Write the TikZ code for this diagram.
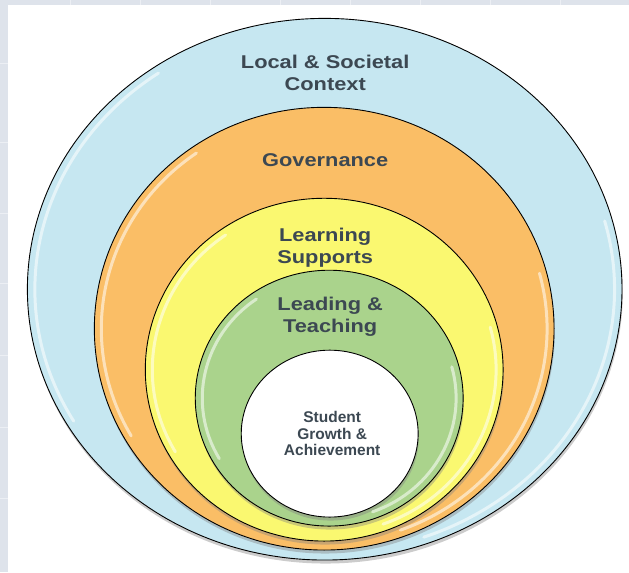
\documentclass[tikz,border=0pt]{standalone}
\usepackage{fontspec}
\setmainfont{Liberation Sans}
\newfontfamily\ringfont{Liberation Sans}[FakeStretch=1.18]
\usetikzlibrary{shapes.geometric,shadows}

\definecolor{stripbg}{RGB}{222,227,235}
\definecolor{stripline}{RGB}{236,239,244}
\definecolor{ctxblue}{RGB}{198,231,241}
\definecolor{govorange}{RGB}{250,190,102}
\definecolor{supyellow}{RGB}{250,248,112}
\definecolor{leadgreen}{RGB}{170,211,140}
\definecolor{labelgray}{RGB}{60,72,82}

\tikzset{
  ring/.style={ellipse, draw=black, line width=0.9pt, inner sep=0pt, outer sep=0pt,
    drop shadow={shadow xshift=0.8pt, shadow yshift=-3.5pt, opacity=0.4}},
  shine/.style={draw=white, line width=3pt, opacity=0.55, line cap=round},
  ringlabel/.style={text=labelgray, align=center, inner sep=0pt,
    font=\ringfont\bfseries\fontsize{18.5}{22}\selectfont},
  corelabel/.style={text=labelgray, align=center, inner sep=0pt,
    font=\bfseries\fontsize{15.5}{16.5}\selectfont},
}

\begin{document}
\begin{tikzpicture}[x=1pt, y=-1pt]
  % page backdrop with its faint grid strip and the white panel
  \fill[stripbg] (0,0) rectangle (629,572);
  \foreach \yy in {63,142,213,283,355,427,498}
    \draw[stripline, line width=0.8pt] (0,\yy) -- (8,\yy);
  \foreach \xx in {70,140,210,280,350,420,490,560}
    \draw[stripline, line width=0.8pt] (\xx,0) -- (\xx,5);
  \fill[white] (8,5) rectangle (629,572);
  \useasboundingbox (0,0) rectangle (629,572);

  % nested rings, outermost first
  \node[ring, fill=ctxblue,   minimum width=595pt, minimum height=542pt] (context)    at (324.5,289)   {};
  \node[ring, fill=govorange, minimum width=460pt, minimum height=443pt] (governance) at (324,328.5)   {};
  \node[ring, fill=supyellow, minimum width=358pt, minimum height=343pt] (supports)   at (324,369.5)   {};
  \node[ring, fill=leadgreen, minimum width=268pt, minimum height=256pt] (teaching)   at (329,398)     {};
  \node[ring, fill=white,     minimum width=177pt, minimum height=167pt] (student)    at (329.5,433.5) {};

  % glossy highlights along the inner rims
  \foreach \cx/\cy/\rx/\ry in {324.5/289/290/264, 324/328.5/223/214.5, 324/369.5/172/164.5, 329/398/127/121}{
    \draw[shine] ({\cx+\rx*cos(150)},{\cy+\ry*sin(150)})
      arc[start angle=150, end angle=235, x radius=\rx, y radius=\ry];
    \draw[shine] ({\cx+\rx*cos(-15)},{\cy+\ry*sin(-15)})
      arc[start angle=-15, end angle=70, x radius=\rx, y radius=\ry];
  }

  % ring labels
  \node[ringlabel] (contextlabel)    at (325,73)    {Local \& Societal\\Context};
  \node[ringlabel] (governancelabel) at (325,160)   {Governance};
  \node[ringlabel] (supportslabel)   at (325,247)   {Learning\\Supports};
  \node[ringlabel] (teachinglabel)   at (330,317)   {Leading \&\\Teaching};
  \node[corelabel] (studentlabel)    at (332,433.5) {Student\\Growth \&\\Achievement};
\end{tikzpicture}
\end{document}
